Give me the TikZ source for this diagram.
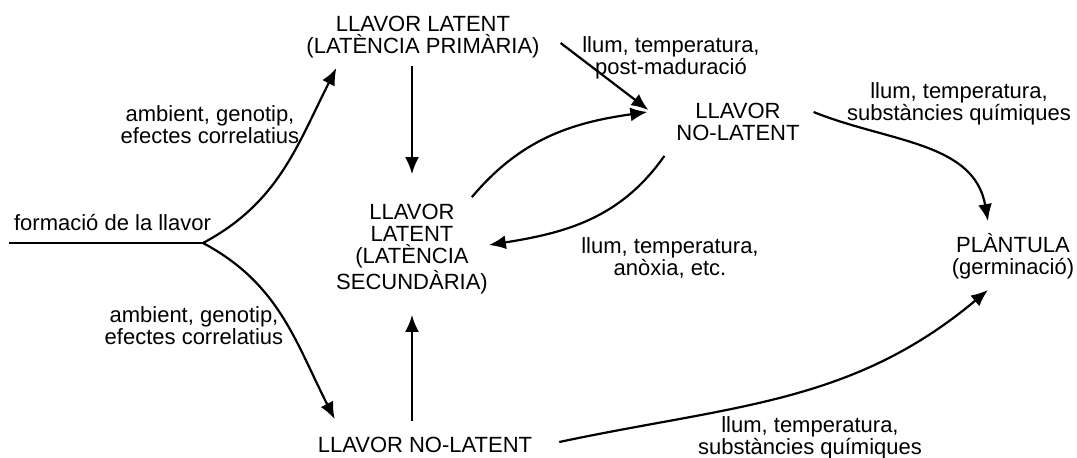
\documentclass[tikz,border=0pt]{standalone}
\usepackage{fontspec}
\setmainfont{Liberation Sans}
\usetikzlibrary{arrows.meta}

\begin{document}
\begin{tikzpicture}[x=0.5pt,y=0.5pt,line width=1.1pt,
    >={Latex[length=8.5pt,width=7pt]},
    every node/.style={align=center,inner sep=0pt,font=\fontsize{11}{11}\selectfont}]
    \useasboundingbox (0,0) rectangle (1077,-457);
    % estats de la llavor
    \node (prim) at (423,-37) {LLAVOR LATENT\\(LATÈNCIA PRIMÀRIA)};
    \node (sec) at (412,-249) {LLAVOR\\LATENT\\(LATÈNCIA\\SECUNDÀRIA)};
    \node (nolat) at (738,-122) {LLAVOR\\NO-LATENT};
    \node (nolatb) at (425,-445) {LLAVOR NO-LATENT};
    \node (plant) at (1013,-256) {PLÀNTULA\\(germinació)};
    \node[anchor=base west] (form) at (13,-230) {formació de la llavor};
    % condicions
    \node (cond1) at (210,-125) {ambient, genotip,\\efectes correlatius};
    \node (cond2) at (194,-326) {ambient, genotip,\\efectes correlatius};
    \node (cond3) at (671,-58) {llum, temperatura,\\post-maduració};
    \node (cond4) at (670,-258) {llum, temperatura,\\anòxia, etc.};
    \node (cond5) at (959,-104) {llum, temperatura,\\substàncies químiques};
    \node (cond6) at (810,-438) {llum, temperatura,\\substàncies químiques};
    % fletxes
    \coordinate (ini) at (9,-243);
    \coordinate (fork) at (203,-243);
    \draw (ini) -- (fork);
    \draw[->] (fork) to[out=28,in=-117] ([shift={(31,-9)}]prim.south west);
    \draw[->] (fork) to[out=-28,in=117] ([shift={(18,17)}]nolatb.north west);
    \draw[->,shorten <=3.5pt,shorten >=14.5pt] (prim.south -| sec.north) -- (sec.north);
    \draw[->,shorten <=7.5pt,shorten >=10pt] (nolatb.north -| sec.south) -- (sec.south);
    \draw[->] ([shift={(20,-6)}]prim.east) -- ([shift={(-27,12)}]nolat.west);
    \draw[->] ([shift={(-17,6)}]sec.north east) to[out=50,in=188] ([shift={(-28,10)}]nolat.west);
    \draw[->] ([shift={(-11,-14)}]nolat.south west) to[out=235,in=9] ([shift={(0,4)}]sec.east);
    \draw[->] ([shift={(13,10)}]nolat.east) to[out=-22,in=100] ([shift={(-25,11)}]plant.north);
    \draw[->] ([shift={(26,3)}]nolatb.east) to[out=12,in=-140] ([shift={(-25,-10)}]plant.south);
\end{tikzpicture}
\end{document}
